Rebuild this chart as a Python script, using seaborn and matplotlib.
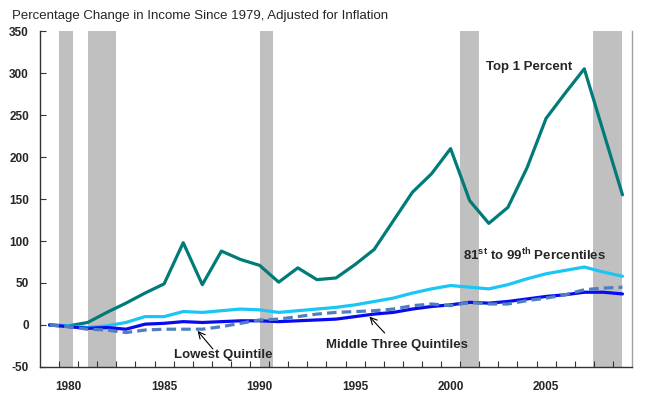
import numpy as np
import pandas as pd
import seaborn as sns
import matplotlib.pyplot as plt
from matplotlib.ticker import MultipleLocator, FixedLocator

sns.set_theme(style="white")
plt.rcParams["font.family"] = ["Liberation Sans", "DejaVu Sans"]
plt.rcParams["mathtext.fontset"] = "custom"
plt.rcParams["mathtext.bf"] = "Liberation Sans:bold"
plt.rcParams["mathtext.rm"] = "Liberation Sans:bold"
plt.rcParams["axes.unicode_minus"] = False

years = list(range(1979, 2010))

top1 = [0, -1, 3, 15, 26, 38, 49, 98, 48, 88, 78, 71, 51, 68, 54, 56, 72, 90, 124, 158, 180, 210,
        148, 121, 140, 187, 246, 276, 305, 230, 155]
p81_99 = [0, -1, -3, -1, 3, 10, 10, 16, 15, 17, 19, 18, 15, 17, 19, 21, 24, 28, 32, 38, 43, 47,
          45, 43, 48, 55, 61, 65, 69, 63, 58]
middle3 = [0, -2, -4, -3, -5, 1, 2, 4, 3, 4, 5, 5, 4, 5, 6, 7, 10, 13, 15, 19, 22, 24,
           27, 26, 28, 31, 34, 36, 39, 39, 37]
lowest = [0, -2, -5, -6, -9, -6, -5, -5, -5, -2, 2, 6, 7, 10, 13, 15, 16, 17, 19, 23, 25, 23,
          27, 25, 25, 29, 32, 36, 42, 44, 45]

# recession spans on the category axis
recessions = [(1979.5, 1980.23), (1980.99, 1982.46), (1990.0, 1990.72), (2000.48, 2001.47), (2007.46, 2008.99)]

fig = plt.figure(figsize=(6.6, 4.08), dpi=100)
ax = fig.add_axes([0.0606, 0.1005, 0.897, 0.8235])

for a, b in recessions:
    ax.axvspan(a, b, color="#C0C0C0", lw=0, zorder=0)

sns.lineplot(x=years, y=top1, color="#007B78", lw=2.3, ax=ax)
sns.lineplot(x=years, y=p81_99, color="#19C6F5", lw=2.3, ax=ax)
sns.lineplot(x=years, y=middle3, color="#0A0AF0", lw=2.3, ax=ax)
sns.lineplot(x=years, y=lowest, color="#4F7FC0", lw=2.3, ax=ax, linestyle=(0, (3, 1.6)))

ax.set_xlim(1978.5, 2009.5)
ax.set_ylim(-50, 350)
ax.yaxis.set_major_locator(MultipleLocator(50))
ax.xaxis.set_major_locator(FixedLocator([1980, 1985, 1990, 1995, 2000, 2005]))
ax.xaxis.set_minor_locator(FixedLocator(np.arange(1979.5, 2009, 1)))
ax.tick_params(axis="x", which="major", length=0, pad=10, labelsize=8.5)
ax.tick_params(axis="x", which="minor", direction="in", length=4, width=0.8, color="#333333", bottom=True)
ax.tick_params(axis="y", direction="in", length=4, width=0.8, color="#333333", pad=8, labelsize=8.5, left=True)
for lab in ax.get_xticklabels() + ax.get_yticklabels():
    lab.set_fontweight("bold")

ax.spines["top"].set_visible(False)
ax.spines["left"].set_color("#333333")
ax.spines["bottom"].set_color("#333333")
ax.spines["right"].set_color("#A0A0A0")
for s in ax.spines.values():
    s.set_linewidth(1.0)
ax.set_xlabel("")
ax.set_ylabel("")

fig.text(0.018, 0.975, "Percentage Change in Income Since 1979, Adjusted for Inflation",
         fontsize=9.5, va="top", ha="left")

ax.text(2004.1, 307, "Top 1 Percent", fontsize=9.5, fontweight="bold", ha="center", va="center")
ax.text(2004.4, 83, r"81$^{\mathbf{st}}$ to 99$^{\mathbf{th}}$ Percentiles", fontsize=9.5,
        fontweight="bold", ha="center", va="center")
ax.text(1988.1, -36, "Lowest Quintile", fontsize=9.5, fontweight="bold", ha="center", va="center")
ax.text(1997.2, -24, "Middle Three Quintiles", fontsize=9.5, fontweight="bold", ha="center", va="center")
arrow = dict(arrowstyle="->", color="black", lw=0.8, shrinkA=0, shrinkB=0)
ax.annotate("", xy=(1986.75, -7), xytext=(1987.55, -28.5), arrowprops=arrow)
ax.annotate("", xy=(1995.75, 10), xytext=(1996.55, -9.5), arrowprops=arrow)

fig.savefig("out.png", dpi=100)
